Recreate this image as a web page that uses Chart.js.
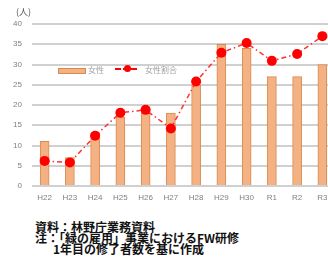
<!DOCTYPE html>
<html><head><meta charset="utf-8">
<script src="https://cdn.jsdelivr.net/npm/chart.js@4/dist/chart.umd.min.js"></script>
<style>
html,body{margin:0;padding:0;background:#fff;overflow:hidden;width:328px;height:266px;}
#wrap{position:absolute;left:0;top:0;width:340px;height:210px;}
.t{position:absolute;white-space:nowrap;font-family:"Noto Sans CJK JP","Noto Sans",sans-serif;}
#unit{left:16px;top:5px;font-size:9px;color:#595959;}
#leg{left:58px;top:64px;font-size:8px;color:#a0a0a0;height:12px;}
.sw{position:absolute;top:4px;left:0;width:26px;height:4px;background:#f4b183;border:1px solid #d98a4e;}
.lb1{position:absolute;left:30px;top:0px;}
.ln{position:absolute;left:57px;top:4px;width:22px;height:0;border-top:2px dashed #ff0000;}
.dt{position:absolute;left:66px;top:1px;width:7px;height:7px;border-radius:50%;background:#ff0000;}
.lb2{position:absolute;left:87px;top:0px;}
#note{left:35px;top:222px;font-size:12px;line-height:10.8px;font-weight:bold;color:#111;}
</style></head>
<body>
<div id="wrap"><canvas id="c" width="340" height="210"></canvas></div>
<div class="t" id="unit">(人)</div>
<div class="t" id="leg"><div class="sw"></div><span class="lb1">女性</span><div class="ln"></div><div class="dt"></div><span class="lb2">女性割合</span></div>
<div class="t" id="note">資料：林野庁業務資料<br>注：「緑の雇用」事業におけるFW研修<br><span style="padding-left:18px">1年目の修了者数を基に作成</span></div>
<script>
const categories = ["H22","H23","H24","H25","H26","H27","H28","H29","H30","R1","R2","R3"];
const women = [11,7,13,17,19,18,25,35,34,27,27,30];
const womenRatio = [6.2,5.8,12.4,18.1,18.8,14.2,25.8,32.9,35.3,30.9,32.6,37.0];
const yTicks = [0,5,10,15,20,25,30,35,40];
const seriesNames = ["女性","女性割合"];

new Chart(document.getElementById('c'), {
  data: {
    labels: categories,
    datasets: [
      {type:'line', label:seriesNames[1], data:womenRatio, order:1,
       borderColor:'#ff3030', borderWidth:1.5, borderDash:[5,3,1.5,3],
       pointRadius:5, pointBackgroundColor:'#ff0000', pointBorderWidth:0, tension:0},
      {type:'bar', label:seriesNames[0], data:women, order:2,
       backgroundColor:'#f4b183', borderColor:'#d98a4e', borderWidth:1, barThickness:9}
    ]
  },
  options: {
    responsive:false, animation:false,
    layout:{padding:{top:24,right:4,left:0,bottom:0}},
    plugins:{legend:{display:false}, tooltip:{enabled:false}},
    scales:{
      x:{grid:{display:false,drawTicks:false}, border:{display:false},
         ticks:{color:'#7f7f7f', font:{size:8, family:'"Liberation Sans", Arial, sans-serif'}, padding:7, maxRotation:0, autoSkip:false},
         afterFit:s=>{s.height=24;}},
      y:{min:0,max:40, border:{display:false},
         grid:{color:'#d0d0d0', lineWidth:2, drawTicks:false},
         afterBuildTicks:s=>{s.ticks=yTicks.map(v=>({value:v}));},
         ticks:{color:'#7f7f7f', font:{size:8, family:'"Liberation Sans", Arial, sans-serif'}, padding:10},
         afterFit:s=>{s.width=32;}}
    }
  }
});
</script>
</body></html>
